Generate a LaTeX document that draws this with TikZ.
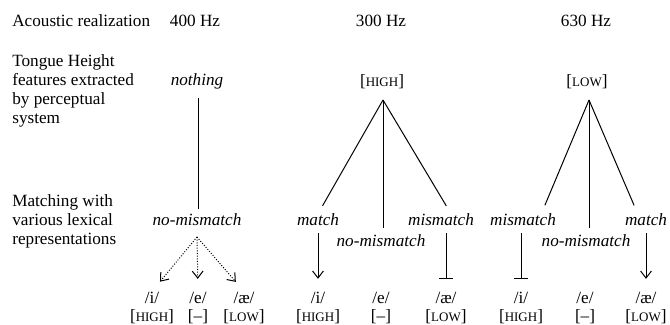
\documentclass[tikz,border=0pt]{standalone}
\usepackage{fontspec}
\setmainfont{Liberation Serif}
\usetikzlibrary{arrows.meta}
\newcommand\fsc[1]{{\fontsize{7.8}{8}\selectfont #1}}
\begin{document}
\begin{tikzpicture}[x=0.6pt,y=-0.6pt,
  txt/.style={inner sep=0pt, font=\fontsize{10.3}{11.4}\selectfont},
  lab/.style={txt, anchor=base},
  itl/.style={inner sep=0pt, anchor=base, font=\fontsize{10.3}{11.4}\selectfont\itshape},
  ln/.style={line width=0.6pt},
  arr/.style={ln, -{Straight Barb[length=4.2pt,width=6.5pt]}},
  tee/.style={ln, -{Bar[width=8pt]}},
  dotarr/.style={ln, densely dotted, -{Straight Barb[length=4.2pt,width=6.5pt]}}]
\useasboundingbox (0,0) rectangle (670,325);

% headers
\node[txt, anchor=base west] (ac) at (12,27) {Acoustic realization};
\node[lab] (f1) at (195,27) {400 Hz};
\node[lab] (f2) at (381,27) {300 Hz};
\node[lab] (f3) at (586,27) {630 Hz};
\node[txt, anchor=north west, align=left] (th) at (12,54) {Tongue Height\\features extracted\\by perceptual\\system};
\node[txt, anchor=north west, align=left] (mw) at (12,194) {Matching with\\various lexical\\representations};

% extracted features
\node[itl] (no) at (197,86) {nothing};
\node[lab] (hi) at (382,87) {[\fsc{HIGH}]};
\node[lab] (lo) at (587,87) {[\fsc{LOW}]};
\coordinate (ha) at (383,100);
\coordinate (la) at (589,100);

% matching row A
\node[itl] (nm0) at (197,226) {no-mismatch};
\node[itl] (m1) at (318,226) {match};
\node[itl] (mm1) at (441,226) {mismatch};
\node[itl] (mm2) at (523,226) {mismatch};
\node[itl] (m2) at (646,226) {match};
% matching row B
\node[itl] (nm1) at (381,247) {no-mismatch};
\node[itl] (nm2) at (586,247) {no-mismatch};

% lexical representations
\foreach \n/\x/\s/\f in {i1/152/i/\fsc{HIGH}, e1/198/e/--, a1/244/\ae/\fsc{LOW},
                        i2/318/i/\fsc{HIGH}, e2/381/e/--, a2/446/\ae/\fsc{LOW},
                        i3/521/i/\fsc{HIGH}, e3/585/e/--, a3/646/\ae/\fsc{LOW}}{
  \node[lab] (\n) at (\x,303) {/\s/};
  \node[lab] (\n f) at (\x,321) {[\f]};
}

% connectors
\coordinate (nt) at (198,98);
\draw[ln, shorten >=3pt] (nt) -- (nt |- nm0.north);
\coordinate (dap) at (197,237);
\draw[dotarr, shorten >=7.5pt] (dap) -- (i1.north);
\draw[dotarr, shorten >=7.5pt] (dap) -- (e1.north);
\draw[dotarr, shorten >=7.5pt] (dap) -- (a1.north);

\draw[ln, shorten >=5.5pt] (ha) -- (m1.north);
\draw[ln, shorten >=4pt] (ha) -- (ha |- nm1.north);
\draw[ln, shorten >=5.5pt] (ha) -- ([xshift=6pt]mm1.north);
\draw[arr, shorten <=4pt, shorten >=7.5pt] (m1.south) -- (i2.north);
\draw[tee, shorten <=4pt, shorten >=7.5pt] (a2.north |- mm1.south) -- (a2.north);

\draw[ln, shorten >=5.5pt] (la) -- ([xshift=11pt]mm2.north);
\draw[ln, shorten >=4pt] (la) -- (la |- nm2.north);
\draw[ln, shorten >=5.5pt] (la) -- ([xshift=-5pt]m2.north);
\draw[tee, shorten <=4pt, shorten >=7.5pt] (i3.north |- mm2.south) -- (i3.north);
\draw[arr, shorten <=4pt, shorten >=7.5pt] (m2.south) -- (a3.north);
\end{tikzpicture}
\end{document}
